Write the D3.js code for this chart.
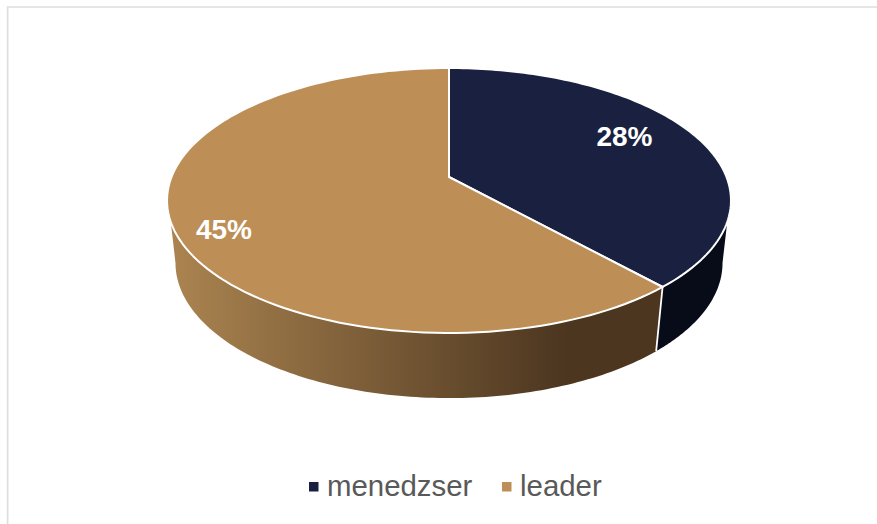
<!DOCTYPE html>
<html>
<head>
<meta charset="utf-8">
<script src="https://cdn.jsdelivr.net/npm/d3@7"></script>
<style>
  html, body { margin: 0; padding: 0; background: #fff; overflow: hidden; }
  svg { display: block; }
  text { font-family: "Liberation Sans", Arial, sans-serif; }
</style>
</head>
<body>
<svg id="chart" width="877" height="524"></svg>
<script>
const categories = ["menedzser", "leader"];
const shares = [28, 45];
const faceColors = ["#1a2040", "#bd8f56"];
const wallColors = ["#080b18", null];

const svg = d3.select("#chart");

// Chart frame: top and left hairlines only
svg.append("path")
  .attr("d", "M7.6,524V7H877")
  .attr("fill", "none").attr("stroke", "#dedede").attr("stroke-width", 1.7);

// Tilted disc: the unit circle is carried through a perspective projection
const cx = 449, cy = 177, tilt = 0.1774, xGain = 277.5, yGain = 128.3;
const wallDrop = 62, wallShrinkX = 0.97, wallShrinkY = 1.02;

const project = (angle, lower) => {
  const u = Math.sin(angle), v = -Math.cos(angle), w = 1 - tilt * v;
  const sx = lower ? wallShrinkX : 1, sy = lower ? wallShrinkY : 1;
  return [cx + sx * xGain * u / w, cy + (lower ? wallDrop : 0) + sy * yGain * v / w];
};
const arcPoints = (a0, a1, lower) =>
  d3.range(0, 121).map(i => project(a0 + (a1 - a0) * i / 120, lower));

const line = d3.line();
const rad = d => d * Math.PI / 180;

const slices = d3.pie().sort(null)(shares);

// Outer wall is visible only over the front part of the rim
const rimTop = [rad(109.3), rad(250.7)];
const rimLow = [rad(100.2), rad(259.8)];

const defs = svg.append("defs");
const wallShade = defs.append("linearGradient")
  .attr("id", "wallShade").attr("gradientUnits", "userSpaceOnUse")
  .attr("x1", 170).attr("x2", 565).attr("y1", 0).attr("y2", 0);
wallShade.append("stop").attr("offset", 0).attr("stop-color", "#ab8450");
wallShade.append("stop").attr("offset", 1).attr("stop-color", "#4c3620");

const split = slices[0].endAngle;
const walls = [
  { fill: wallColors[0], top: [rimTop[0], split], low: [rimLow[0], split] },
  { fill: "url(#wallShade)", top: [split, rimTop[1]], low: [split, rimLow[1]] }
];
svg.append("g").selectAll("path").data(walls).join("path")
  .attr("d", d => line(arcPoints(d.top[0], d.top[1], false)
      .concat(arcPoints(d.low[1], d.low[0], true))) + "Z")
  .attr("fill", d => d.fill);

// Seam between the two walls
svg.append("path")
  .attr("d", line([project(split, false), project(split, true)]))
  .attr("stroke", "#fff").attr("stroke-width", 1.8).attr("fill", "none");

// Top faces
svg.append("g").selectAll("path").data(slices).join("path")
  .attr("d", d => line([[cx, cy]].concat(arcPoints(d.startAngle, d.endAngle, false))) + "Z")
  .attr("fill", (d, i) => faceColors[i])
  .attr("stroke", "#fff").attr("stroke-width", 2).attr("stroke-linejoin", "round");

// Value labels
const labelSpots = [[624.5, 136.5], [224, 229]];
svg.append("g").selectAll("text").data(shares).join("text")
  .attr("x", (d, i) => labelSpots[i][0])
  .attr("y", (d, i) => labelSpots[i][1])
  .attr("dy", "0.35em").attr("text-anchor", "middle")
  .attr("font-size", 28).attr("font-weight", "bold").attr("fill", "#fff")
  .text(d => d + "%");

// Legend
const legendX = [309, 502];
const legend = svg.append("g").selectAll("g").data(categories).join("g")
  .attr("transform", (d, i) => `translate(${legendX[i]},482)`);
legend.append("rect").attr("width", 9.5).attr("height", 9.5)
  .attr("fill", (d, i) => faceColors[i]);
legend.append("text").attr("x", 18).attr("y", 14)
  .attr("font-size", 29.4).attr("fill", "#595959")
  .text(d => d);
</script>
</body>
</html>
